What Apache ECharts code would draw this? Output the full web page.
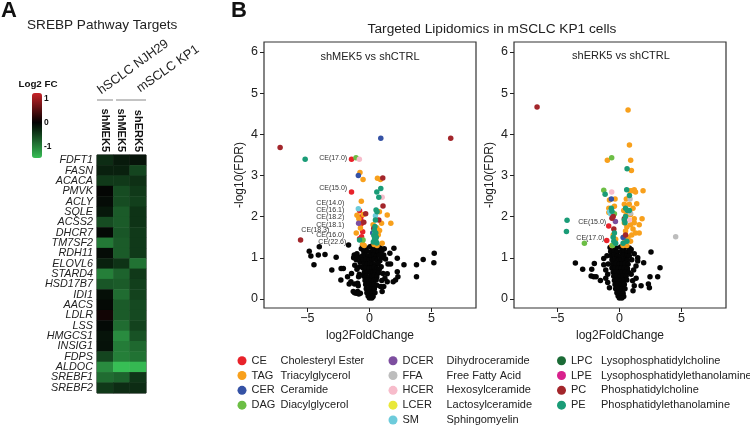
<!DOCTYPE html>
<html><head><meta charset="utf-8">
<script src="https://cdn.jsdelivr.net/npm/echarts@6/dist/echarts.min.js"></script>
<style>html,body{margin:0;padding:0;background:#fff}#c{width:750px;height:426px}</style>
</head><body><div id="c"></div>
<script>
// ---------------- DATA ----------------
const genes = ['FDFT1','FASN','ACACA','PMVK','ACLY','SQLE','ACSS2','DHCR7','TM7SF2','RDH11','ELOVL6','STARD4','HSD17B7','IDI1','AACS','LDLR','LSS','HMGCS1','INSIG1','FDPS','ALDOC','SREBF1','SREBF2'];
const heatColumns = ['hSCLC NJH29 shMEK5','mSCLC KP1 shMEK5','mSCLC KP1 shERK5'];
const fcNJH29_shMEK5 = [-0.35,-0.25,-0.45,-0.03,-0.08,-0.18,-0.6,-0.05,-0.95,-0.08,-0.25,-1.0,-0.68,-0.1,-0.05,0.1,-0.06,-0.15,-0.13,-0.55,-1.1,-0.85,-0.45];
const fcKP1_shMEK5   = [-0.2,-0.25,-0.45,-0.6,-0.6,-0.72,-0.72,-0.68,-0.72,-0.72,-0.4,-0.78,-0.72,-0.85,-0.72,-0.72,-0.85,-1.1,-0.98,-1.0,-1.55,-0.78,-0.35];
const fcKP1_shERK5   = [-0.15,-0.55,-0.38,-0.45,-0.5,-0.4,-0.4,-0.45,-0.45,-0.45,-0.9,-0.45,-0.5,-0.52,-0.58,-0.58,-0.52,-0.65,-0.82,-0.9,-1.45,-0.42,-0.35];
const colorbarTicks = [1, 0, -1];

const xTickVals = [-5, 0, 5];
const yTickVals = [0, 1, 2, 3, 4, 5, 6];

const classCodes = ['CE','TAG','CER','DAG','DCER','FFA','HCER','LCER','SM','LPC','LPE','PC','PE'];
const classFull  = ['Cholesteryl Ester','Triacylglycerol','Ceramide','Diacylglycerol','Dihydroceramide','Free Fatty Acid','Hexosylceramide','Lactosylceramide','Sphingomyelin','Lysophosphatidylcholine','Lysophosphatidylethanolamine','Phosphatidylcholine','Phosphatidylethanolamine'];
const legendCol1 = ['CE','TAG','CER','DAG'];
const legendCol2 = ['DCER','FFA','HCER','LCER','SM'];
const legendCol3 = ['LPC','LPE','PC','PE'];

// shMEK5 vs shCTRL
const mek5_CE = [[-1.44,3.39],[-1.44,2.60],[-0.79,2.14],[-0.68,1.99],[-0.67,1.89],[-0.67,1.82],[-0.54,1.63],[-0.63,1.51],[-0.79,1.46]];
const mek5_CE_labels = ['CE(17.0)','CE(15.0)','CE(14.0)','CE(16.1)','CE(18.2)','CE(18.1)','CE(18.3)','CE(16.0)','CE(22.6)'];
const mek5_TAG = [[-0.76,3.07],[-0.51,2.9],[0.65,2.93],[0.89,2.9],[-0.65,2.37],[-0.49,2.05],[-1.0,2.03],[0.81,2.12],[1.44,2.04],[0.98,1.84],[1.73,1.84],[-1.06,1.6],[-0.54,1.33],[0.6,1.73],[1.03,1.35],[0.72,1.56],[0.62,1.3],[0.38,1.32],[-0.42,1.3],[0.3,1.8],[0.82,1.66],[-0.72,1.72],[-0.85,1.95],[0.5,1.45]];
const mek5_CER = [[0.92,3.9],[-0.89,3.0],[0.27,1.6]];
const mek5_DAG = [[-1.08,3.43],[-0.51,1.43]];
const mek5_DCER = [[-0.87,1.84]];
const mek5_FFA = [];
const mek5_HCER = [[-0.81,3.39],[1.03,2.47]];
const mek5_LCER = [];
const mek5_SM = [[-0.89,2.19],[0.49,2.02],[0.42,1.58]];
const mek5_LPC = [];
const mek5_LPE = [];
const mek5_PC = [[-7.2,3.68],[6.56,3.9],[1.08,2.94],[1.1,2.26],[-0.3,2.07],[-5.55,1.43],[0.76,1.92],[0.35,1.71],[-0.45,1.86]];
const mek5_PE = [[-5.18,3.39],[0.92,2.68],[0.6,2.6],[0.76,2.47],[0.54,2.16],[0.62,2.12],[0.49,1.92],[0.45,1.76],[0.4,1.66],[0.52,1.6],[0.36,1.54],[0.56,1.5],[0.42,1.45],[0.52,1.4],[0.32,1.38],[0.6,1.36],[-0.79,1.43],[0.45,1.5]];
const mek5_NS = [
 [-4.85,1.16],[-4.72,1.04],[-4.47,0.83],[-4.04,1.27],[-4.12,1.07],[-3.58,1.08],[-3.03,0.7],[-2.68,1.01],[-2.28,0.74],[-2.1,0.74],[-2.3,0.46],[-1.76,0.54],[-1.63,0.36],[-1.68,1.31],[-1.22,1.07],[-1.27,1.0],[-1.06,0.95],[-1.0,1.1],[-0.95,1.03],[-0.79,0.78],[-1.18,0.82],[-1.0,0.72],[-0.87,0.54],[-1.44,0.62],[-0.81,0.6],[-1.49,0.42],[-1.2,0.36],[-0.9,0.32],[-0.95,0.38],[-0.95,0.18],[-1.06,0.14],[-0.73,0.14],[-1.2,0.15],[-1.3,0.18],[-0.85,0.12],[-0.65,1.22],[-0.7,1.0],[-0.75,0.9],
 [1.16,1.07],[1.65,1.11],[1.98,1.23],[2.25,0.99],[1.71,0.85],[2.25,0.66],[2.3,0.54],[2.11,0.46],[1.92,0.42],[1.44,0.42],[2.79,0.83],[3.8,0.83],[3.8,0.54],[4.34,0.96],[5.2,0.88],[5.23,1.11],[1.44,0.61],[1.16,0.3],[1.03,0.18],[1.03,1.19],[1.3,0.97],[0.95,0.78],[1.1,0.62],[1.25,0.5],[1.5,0.85],[0.95,1.0],[1.2,1.22],[1.0,0.45],[0.9,0.3],
 [-0.55,1.3],[0.3,1.31],[0.6,1.3],
 [-0.5,1.26],[-0.3,1.24],[0.05,1.27],[0.25,1.25],[0.45,1.26],[0.65,1.23],[0.85,1.25],
 [-0.45,1.15],[-0.2,1.16],[0.1,1.14],[0.3,1.17],[0.5,1.15],[0.7,1.13],[0.95,1.16],
 [-0.55,1.05],[-0.35,1.06],[-0.1,1.04],[0.15,1.05],[0.35,1.07],[0.55,1.04],[0.8,1.06],
 [-0.5,0.95],[-0.25,0.96],[0.0,0.94],[0.2,0.95],[0.4,0.97],[0.6,0.94],[0.85,0.93],
 [-0.45,0.85],[-0.2,0.84],[0.05,0.86],[0.25,0.85],[0.45,0.83],[0.7,0.86],
 [-0.5,0.75],[-0.3,0.76],[-0.05,0.74],[0.2,0.75],[0.4,0.77],[0.6,0.74],[0.8,0.72],
 [-0.4,0.65],[-0.15,0.66],[0.1,0.64],[0.3,0.65],[0.5,0.66],[0.75,0.63],
 [-0.45,0.55],[-0.25,0.56],[0.0,0.54],[0.2,0.55],[0.4,0.57],[0.6,0.53],
 [-0.35,0.45],[-0.1,0.46],[0.15,0.44],[0.35,0.45],[0.55,0.46],
 [-0.3,0.35],[-0.05,0.36],[0.2,0.34],[0.4,0.35],[0.6,0.33],
 [-0.25,0.25],[0.0,0.26],[0.2,0.24],[0.4,0.25],
 [-0.2,0.15],[0.05,0.16],[0.25,0.14],[0.45,0.15],
 [-0.1,0.07],[0.1,0.08],[0.3,0.06],[0.0,0.02],[0.2,0.02]
];

// shERK5 vs shCTRL
const erk5_CE = [[-0.86,1.77],[-1.02,1.42]];
const erk5_CE_labels = ['CE(15.0)','CE(17.0)'];
const erk5_TAG = [[0.7,4.59],[0.81,3.74],[-0.97,3.37],[0.91,3.37],[0.97,3.12],[-0.8,2.4],[-0.35,2.43],[0.85,2.63],[1.0,2.63],[1.2,2.65],[1.3,2.6],[1.91,2.63],[0.56,2.43],[1.4,2.31],[-0.85,2.2],[-0.85,2.1],[0.54,2.03],[0.9,2.05],[1.83,1.95],[1.6,1.8],[1.6,1.6],[0.4,2.3],[0.35,2.15],[0.4,1.85],[0.6,1.75],[0.9,1.8],[1.2,1.85],[1.1,1.7],[0.5,1.65],[0.35,1.5],[0.7,1.5],[1.3,1.6],[-0.5,1.55],[-0.3,1.45],[0.3,1.3],[0.6,1.3],[-0.6,1.3],[0.9,1.4],[1.1,2.2],[0.8,2.3],[-0.4,2.25],[1.2,1.95],[1.0,1.55],[0.45,1.4]];
const erk5_CER = [[-0.65,2.43],[0.3,1.49]];
const erk5_DAG = [[-0.62,3.43],[-1.26,2.64],[-2.82,1.35],[-0.4,2.07],[-0.55,1.3]];
const erk5_DCER = [[-0.32,1.88]];
const erk5_FFA = [[0.86,2.43],[4.54,1.51],[0.9,2.08]];
const erk5_HCER = [[-0.62,2.6],[0.8,1.92]];
const erk5_LCER = [];
const erk5_SM = [[-0.7,2.07],[-0.78,2.12]];
const erk5_LPC = [];
const erk5_LPE = [];
const erk5_PC = [[-6.64,4.66],[-0.6,1.96],[-0.5,2.0],[0.4,1.95],[0.5,1.55],[-0.45,1.7]];
const erk5_PE = [[0.62,3.16],[-1.15,2.54],[0.59,2.65],[0.81,2.51],[-4.22,1.91],[-4.27,1.64],[0.5,2.2],[0.65,2.15],[0.8,2.15],[-0.6,2.13],[0.4,1.92],[0.45,1.85],[-0.4,1.6],[-0.5,1.5],[-0.45,1.4],[-0.3,1.35],[0.6,1.4],[0.3,1.35],[-0.65,2.2],[0.5,2.0]];
const erk5_NS = [
 [-3.55,0.87],[-2.96,0.72],[-2.28,0.56],[-2.23,0.72],[-2.02,0.86],[-2.07,0.54],[-1.88,0.54],[-1.53,0.45],[-1.26,0.98],[-1.26,0.83],[-0.94,0.6],[-1.1,0.7],[-0.94,0.4],[-0.8,0.27],[-1.0,1.05],[-0.9,0.85],[-1.1,0.5],
 [2.55,1.14],[1.96,0.88],[1.48,1.0],[1.48,0.92],[1.34,0.8],[3.28,0.76],[3.09,0.54],[2.47,0.54],[2.34,0.36],[2.42,0.27],[1.75,0.32],[1.07,0.44],[1.2,0.32],[0.95,0.6],[1.15,0.7],[1.0,0.95],[1.2,1.1],[0.95,1.2],[1.1,0.2],[1.35,0.5],
 [-0.75,1.25],[-0.5,1.27],[-0.25,1.24],[0.1,1.26],[0.3,1.25],[0.55,1.27],[0.8,1.24],
 [-0.7,1.15],[-0.45,1.16],[-0.2,1.14],[0.15,1.15],[0.35,1.17],[0.6,1.14],[0.85,1.15],
 [-0.65,1.05],[-0.4,1.06],[-0.15,1.04],[0.1,1.05],[0.35,1.06],[0.6,1.04],[0.8,1.05],
 [-0.6,0.95],[-0.35,0.96],[-0.1,0.94],[0.15,0.95],[0.4,0.96],[0.65,0.94],
 [-0.55,0.85],[-0.3,0.86],[-0.05,0.84],[0.2,0.85],[0.45,0.86],[0.7,0.84],
 [-0.6,0.75],[-0.35,0.76],[-0.1,0.74],[0.15,0.75],[0.4,0.76],[0.65,0.74],
 [-0.5,0.65],[-0.25,0.66],[0.0,0.64],[0.25,0.65],[0.5,0.66],[0.75,0.64],
 [-0.45,0.55],[-0.2,0.56],[0.05,0.54],[0.3,0.55],[0.55,0.56],
 [-0.4,0.45],[-0.15,0.46],[0.1,0.44],[0.35,0.45],[0.6,0.46],
 [-0.35,0.35],[-0.1,0.36],[0.15,0.34],[0.4,0.35],
 [-0.3,0.25],[-0.05,0.26],[0.2,0.24],[0.45,0.25],
 [-0.2,0.15],[0.05,0.16],[0.3,0.14],
 [-0.1,0.07],[0.15,0.08],[0.35,0.06],[0.0,0.02],[0.2,0.02]
];

// ---------------- STYLE ----------------
const FONT = "'Liberation Sans', Arial, Helvetica, sans-serif";
const TXT = '#222';
const classColors = {CE:'#e8222a',TAG:'#f8a01c',CER:'#3552a5',DAG:'#6cbe45',DCER:'#7d4e9f',FFA:'#bdbdbd',HCER:'#f7bccb',LCER:'#e9e83a',SM:'#6dcbdb',LPC:'#1b6b36',LPE:'#d8218c',PC:'#a3262b',PE:'#1a9c77'};
const labelOffsets = {
  'mek5:CE(17.0)':[-1.6,-1.3],'mek5:CE(15.0)':[-1.6,-4.2],'mek5:CE(14.0)':[-12.5,-7.8],'mek5:CE(16.1)':[-13.9,-7],
  'mek5:CE(18.2)':[-14,-3.6],'mek5:CE(18.1)':[-14,1],'mek5:CE(18.3)':[-30.6,-1.8],'mek5:CE(16.0)':[-14.5,-1.8],'mek5:CE(22.6)':[-10.5,2.9],
  'erk5:CE(15.0)':[0.2,-4],'erk5:CE(17.0)':[0.4,-2.8]
};
const SYM = 5.5;
const heatColors = ['#37be55','#2e9e47','#257f39','#1c5f2b','#123f1c','#09200e','#030303','#280708','#500e10','#781518','#a01c20','#c82328'];
const cbMin = -1.5, cbMax = 1.25, cbTop = 93, cbLen = 65;

const mek5 = {CE:mek5_CE,TAG:mek5_TAG,CER:mek5_CER,DAG:mek5_DAG,DCER:mek5_DCER,FFA:mek5_FFA,HCER:mek5_HCER,LCER:mek5_LCER,SM:mek5_SM,LPC:mek5_LPC,LPE:mek5_LPE,PC:mek5_PC,PE:mek5_PE};
const erk5 = {CE:erk5_CE,TAG:erk5_TAG,CER:erk5_CER,DAG:erk5_DAG,DCER:erk5_DCER,FFA:erk5_FFA,HCER:erk5_HCER,LCER:erk5_LCER,SM:erk5_SM,LPC:erk5_LPC,LPE:erk5_LPE,PC:erk5_PC,PE:erk5_PE};

// ---------------- BUILD ----------------
const heatData = [];
genes.forEach((g, i) => {
  heatData.push([0, i, fcNJH29_shMEK5[i]]);
  heatData.push([1, i, fcKP1_shMEK5[i]]);
  heatData.push([2, i, fcKP1_shERK5[i]]);
});

const series = [{
  type: 'heatmap', xAxisIndex: 0, yAxisIndex: 0, data: heatData,
  emphasis: {disabled: true}, itemStyle: {borderWidth: 0}
}];

function addVolcano(tag, axisIdx, byClass, ns, ceLabels) {
  series.push({
    type: 'scatter', name: 'NS', xAxisIndex: axisIdx, yAxisIndex: axisIdx,
    data: ns, symbolSize: SYM, itemStyle: {color: '#050505', opacity: 1}, z: 2,
    emphasis: {disabled: true}, silent: true
  });
  classCodes.forEach(code => {
    let data = byClass[code];
    if (code === 'CE') {
      data = data.map((p, i) => ({
        value: p,
        label: {show: true, formatter: ceLabels[i], position: 'left', distance: 0,
                offset: labelOffsets[tag + ':' + ceLabels[i]] || [0, 0],
                fontSize: 7, color: '#333', fontFamily: FONT}
      }));
    }
    series.push({
      type: 'scatter', name: code, xAxisIndex: axisIdx, yAxisIndex: axisIdx,
      data: data, symbolSize: SYM, itemStyle: {color: classColors[code], opacity: 1}, z: 3,
      emphasis: {disabled: true}
    });
  });
}
addVolcano('mek5', 1, mek5, mek5_NS, mek5_CE_labels);
addVolcano('erk5', 2, erk5, erk5_NS, erk5_CE_labels);

function volX(gi) {
  return {type: 'value', gridIndex: gi, min: -8.5, max: 8.6,
    axisLine: {show: false, onZero: false}, splitLine: {show: false},
    axisTick: {show: true, length: 4, lineStyle: {color: '#222', width: 1}, customValues: xTickVals},
    axisLabel: {customValues: xTickVals, fontSize: 12.5, color: TXT, margin: 4, fontFamily: FONT,
      formatter: v => String(v).replace('-', '\u2212')},
    name: 'log2FoldChange', nameLocation: 'middle', nameGap: 19,
    nameTextStyle: {fontSize: 12, color: TXT, fontFamily: FONT}};
}
function volY(gi) {
  return {type: 'value', gridIndex: gi, min: -0.22, max: 6.24,
    axisLine: {show: false, onZero: false}, splitLine: {show: false},
    axisTick: {show: true, length: 4, lineStyle: {color: '#222', width: 1}, customValues: yTickVals},
    axisLabel: {customValues: yTickVals, fontSize: 12.5, color: TXT, margin: 6, fontFamily: FONT},
    name: '-log10(FDR)', nameLocation: 'middle', nameGap: 18, nameRotate: 90,
    nameTextStyle: {fontSize: 12, color: TXT, fontFamily: FONT}};
}

const fullOf = {};
classCodes.forEach((c, i) => { fullOf[c] = classFull[i]; });
function mkLegend(items, left, abbrW) {
  return {
    data: items, orient: 'vertical', left: left, top: 354, height: 90, padding: 0,
    itemWidth: 9, itemHeight: 9, itemGap: 1.3, icon: 'circle', selectedMode: false,
    formatter: n => '{a|' + n + '}{b|' + fullOf[n] + '}',
    textStyle: {fontSize: 11, color: TXT, fontFamily: FONT, lineHeight: 13.5,
      rich: {a: {width: abbrW, fontSize: 11, color: TXT, fontFamily: FONT},
             b: {fontSize: 11, color: TXT, fontFamily: FONT}}}
  };
}

const graphics = [
  {type: 'text', left: 1, top: 0, style: {text: 'A', font: 'bold 22px ' + FONT, fill: '#111'}},
  {type: 'text', left: 231, top: 0, style: {text: 'B', font: 'bold 22px ' + FONT, fill: '#111'}},
  {type: 'text', x: 27, y: 25, style: {text: 'SREBP Pathway Targets', font: '13.6px ' + FONT, fill: TXT, textVerticalAlign: 'middle'}},
  {type: 'text', x: 492, y: 29, style: {text: 'Targeted Lipidomics in mSCLC KP1 cells', font: '13.7px ' + FONT, fill: TXT, textAlign: 'center', textVerticalAlign: 'middle'}},
  {type: 'text', x: 370, y: 57, style: {text: 'shMEK5 vs shCTRL', font: '11px ' + FONT, fill: TXT, textAlign: 'center', textVerticalAlign: 'middle'}},
  {type: 'text', x: 621, y: 56, style: {text: 'shERK5 vs shCTRL', font: '11px ' + FONT, fill: TXT, textAlign: 'center', textVerticalAlign: 'middle'}},
  {type: 'text', x: 103, y: 97, rotation: 36 * Math.PI / 180, style: {text: 'hSCLC NJH29', font: '12.8px ' + FONT, fill: TXT, textAlign: 'left', textVerticalAlign: 'bottom'}},
  {type: 'text', x: 142, y: 95, rotation: 35 * Math.PI / 180, style: {text: 'mSCLC KP1', font: '12.8px ' + FONT, fill: TXT, textAlign: 'left', textVerticalAlign: 'bottom'}},
  {type: 'line', shape: {x1: 97, y1: 100, x2: 113, y2: 100}, style: {stroke: '#888', lineWidth: 1}},
  {type: 'line', shape: {x1: 116, y1: 100, x2: 146, y2: 100}, style: {stroke: '#888', lineWidth: 1}},
  {type: 'text', x: 38, y: 84, style: {text: 'Log2 FC', font: 'bold 9.8px ' + FONT, fill: '#111', textAlign: 'center', textVerticalAlign: 'middle'}}
];
colorbarTicks.forEach(v => {
  graphics.push({type: 'text', x: 44, y: cbTop + (cbMax - v) / (cbMax - cbMin) * cbLen,
    style: {text: String(v), font: 'bold 8.5px ' + FONT, fill: '#111', textVerticalAlign: 'middle'}});
});

const option = {
  animation: false,
  backgroundColor: '#fff',
  textStyle: {fontFamily: FONT},
  grid: [
    {left: 97, top: 155, width: 49, height: 238, show: true, borderColor: '#1a1a1a', borderWidth: 1, backgroundColor: 'transparent'},
    {left: 264, top: 42, width: 212, height: 266, show: true, borderColor: '#333', borderWidth: 1.2, backgroundColor: 'transparent'},
    {left: 514, top: 42, width: 212, height: 266, show: true, borderColor: '#333', borderWidth: 1.2, backgroundColor: 'transparent'}
  ],
  xAxis: [
    {type: 'category', gridIndex: 0, position: 'top', data: heatColumns,
      axisLine: {show: false}, axisTick: {show: false}, splitLine: {show: false},
      axisLabel: {rotate: 90, interval: 0, margin: 3, fontSize: 11, fontWeight: 'bold', color: '#111', fontFamily: FONT,
        formatter: s => s.split(' ').pop()}},
    volX(1), volX(2)
  ],
  yAxis: [
    {type: 'category', gridIndex: 0, data: genes, inverse: true,
      axisLine: {show: false}, axisTick: {show: false}, splitLine: {show: false},
      axisLabel: {interval: 0, fontSize: 10.8, fontStyle: 'italic', color: TXT, margin: 4, fontFamily: FONT}},
    volY(1), volY(2)
  ],
  visualMap: [{
    type: 'continuous', min: cbMin, max: cbMax, dimension: 2, seriesIndex: 0,
    calculable: false, orient: 'vertical', left: 32, top: cbTop, padding: 0,
    itemWidth: 10, itemHeight: cbLen, text: null, hoverLink: false,
    inRange: {color: heatColors}
  }],
  legend: [mkLegend(legendCol1, 237.5, 29), mkLegend(legendCol2, 388.5, 44), mkLegend(legendCol3, 557, 30)],
  graphic: graphics,
  series: series
};

const chart = echarts.init(document.getElementById('c'), null, {renderer: 'canvas'});
chart.setOption(option);
</script>
</body></html>
